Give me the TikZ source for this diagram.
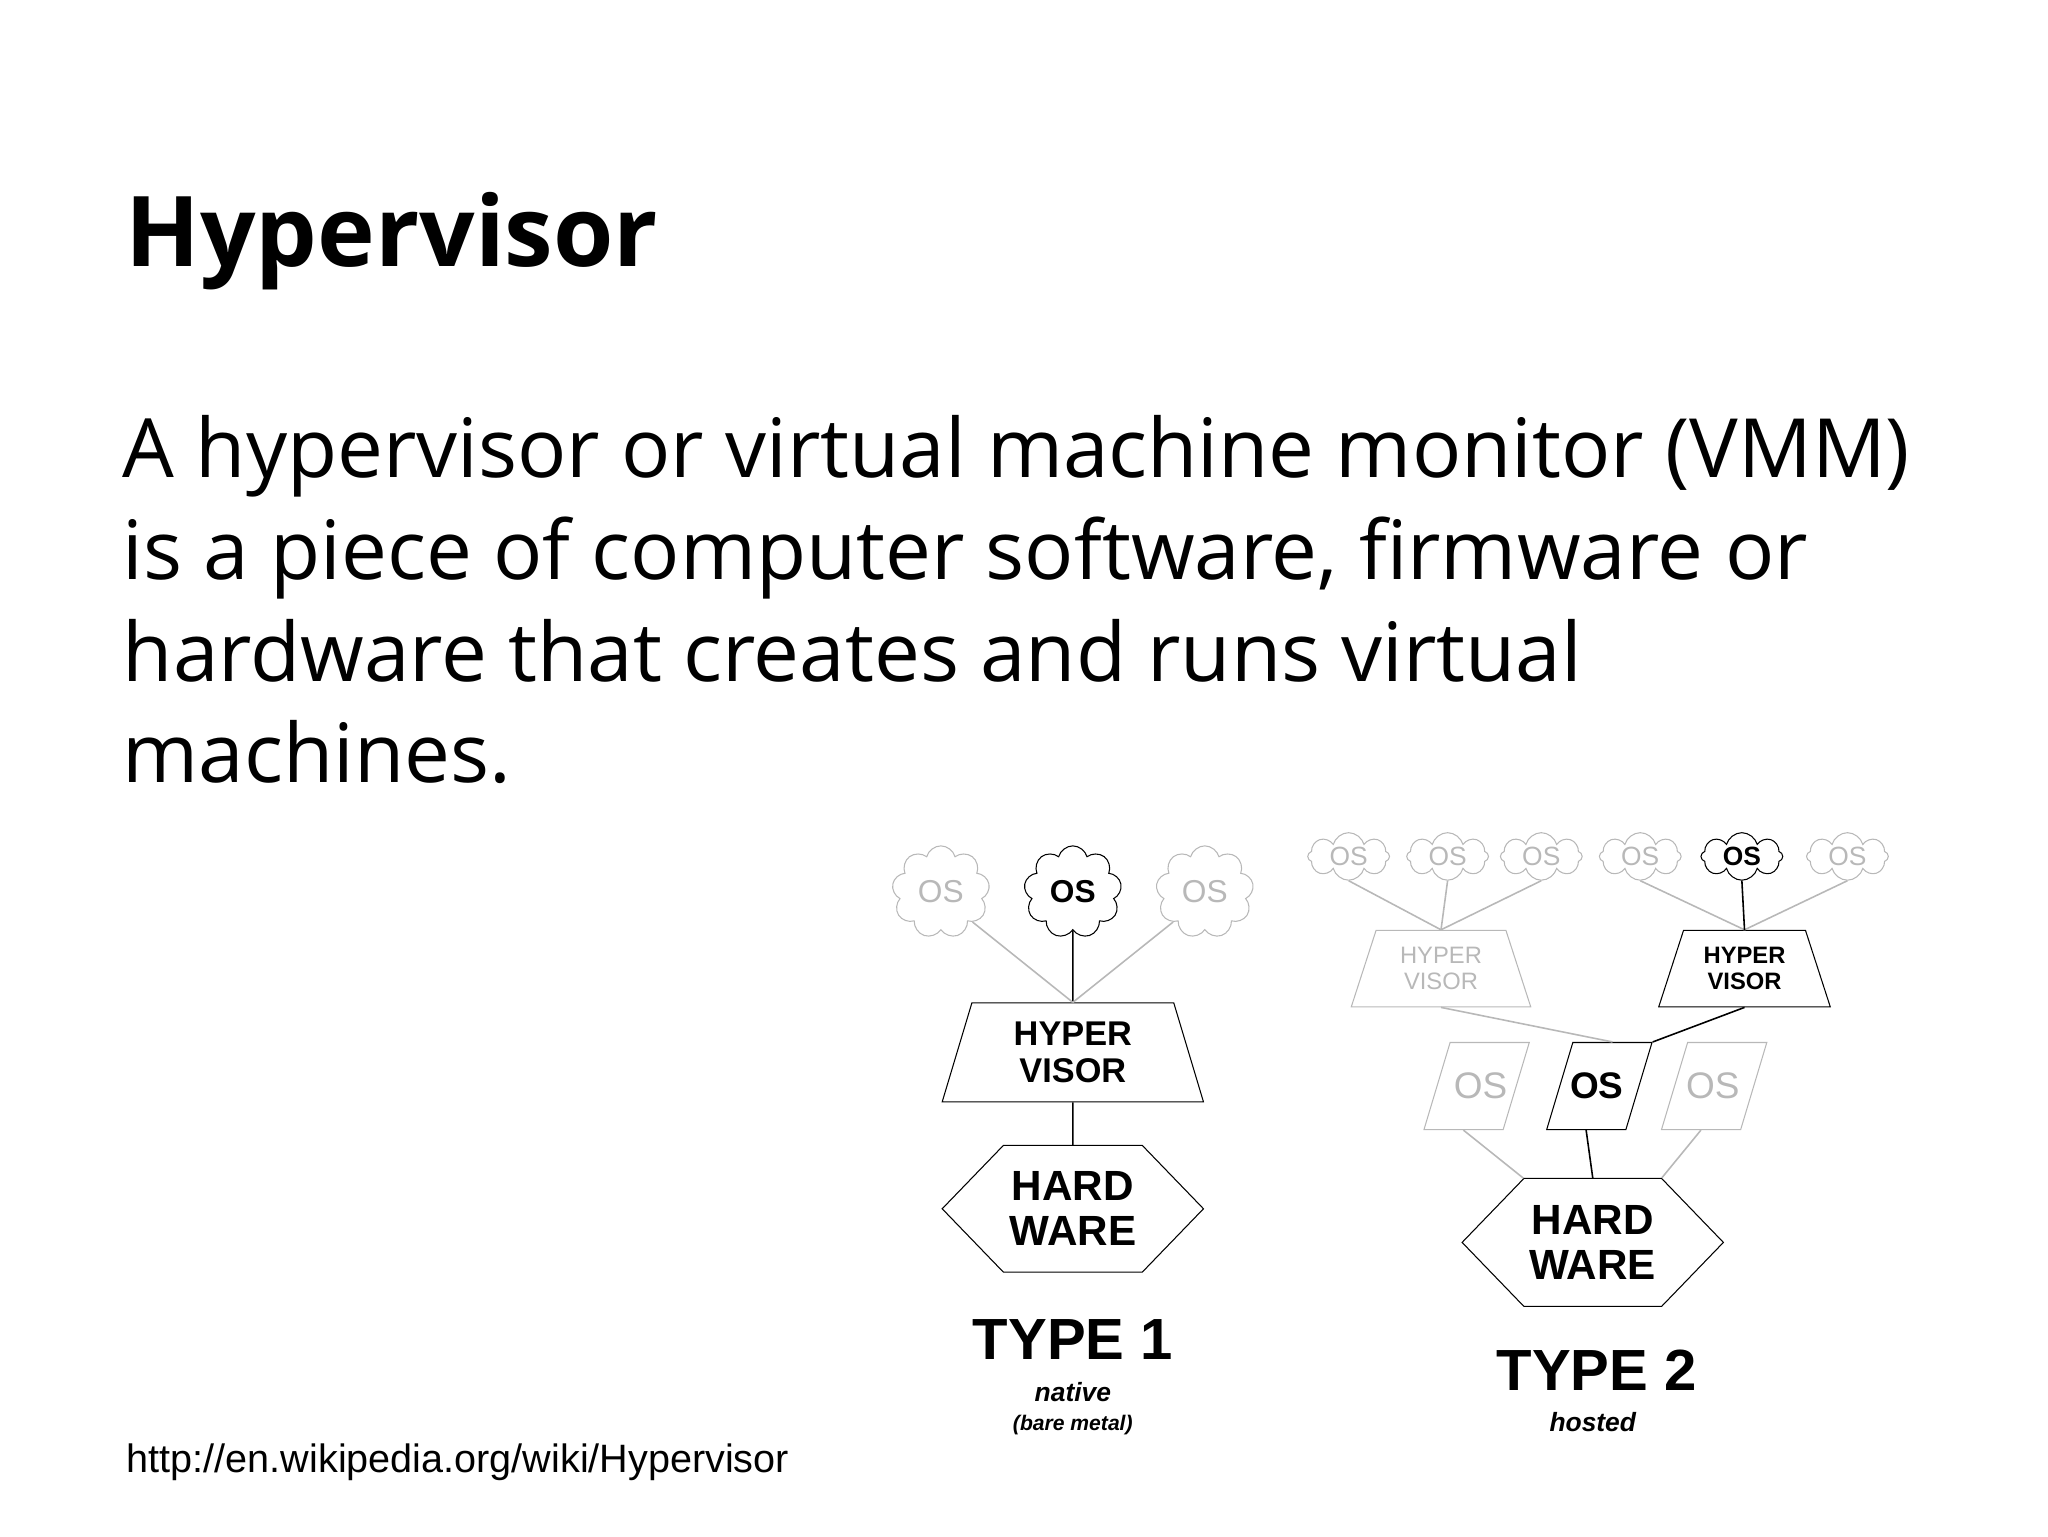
\documentclass[tikz,border=0pt]{standalone}
\usepackage{fontspec}
\setmainfont{Open Sans}
\newfontfamily\arial{Liberation Sans}
\usetikzlibrary{shapes.geometric,shapes.symbols}
\definecolor{lg}{gray}{0.72}
\begin{document}
\begin{tikzpicture}[x=0.5pt,y=-0.5pt,
  cl/.style={cloud,cloud puffs=9,draw,minimum width=37pt,minimum height=35pt,inner sep=0pt,font=\arial\bfseries\fontsize{12}{12}\selectfont},
  scl/.style={cloud,cloud puffs=8,draw,minimum width=31pt,minimum height=18pt,inner sep=0pt,aspect=1.8,font=\arial\fontsize{10}{10}\selectfont},
  trap/.style={trapezium,trapezium stretches body,draw,align=center,inner sep=0pt,font=\arial\bfseries\fontsize{13}{14}\selectfont},
  hex/.style={signal,signal to=east and west,signal pointer angle=92,draw,align=center,inner sep=0pt,font=\arial\bfseries\fontsize{16}{17}\selectfont},
  par/.style={rectangle,xslant=0.3,draw,minimum width=30pt,minimum height=33pt,inner sep=0pt},
  ptxt/.style={font=\arial\bfseries\fontsize{14}{14}\selectfont},
  gr/.style={draw=lg,text=lg},
  ln/.style={line width=0.6pt},
  gl/.style={draw=lg,line width=0.6pt}]
\useasboundingbox (0,0) rectangle (1552,1164);
\node[anchor=west,font=\bfseries\fontsize{37}{44}\selectfont] (title) at (88,183) {Hypervisor};
\node[anchor=north west,align=left,font=\fontsize{31}{38.5}\selectfont] (body) at (86,308)
 {A hypervisor or virtual machine monitor (VMM)\\is a piece of computer software, firmware or\\hardware that creates and runs virtual\\machines.};
\node[anchor=west,font=\arial\fontsize{15}{15}\selectfont] (url) at (89,1108) {http://en.wikipedia.org/wiki/Hypervisor};
% Type 1
\node[cl,gr,font=\arial\fontsize{12}{12}\selectfont] (c1) at (713,676) {OS};
\node[cl] (c2) at (813,676) {OS};
\node[cl,gr,font=\arial\fontsize{12}{12}\selectfont] (c3) at (913,676) {OS};
\node[trap,trapezium left angle=64,trapezium right angle=64,minimum width=99pt,minimum height=37.5pt] (h1) at (813,797.5) {HYPER\\VISOR};
\node[hex,minimum width=99pt,minimum height=48pt] (hw1) at (813,916) {HARD\\WARE};
\draw[ln] (c2.south) -- (h1.north);
\draw[gl] (c1.south east) -- (h1.north);
\draw[gl] (c3.south west) -- (h1.north);
\draw[ln] (h1.south) -- (hw1.north);
\node[font=\arial\bfseries\fontsize{22}{22}\selectfont] (t1) at (813,1015) {TYPE 1};
\node[font=\arial\bfseries\itshape\fontsize{10}{10}\selectfont] (n1) at (813,1055) {native};
\node[font=\arial\bfseries\itshape\fontsize{8}{8}\selectfont] (n2) at (813,1080) {(bare metal)};
% Type 2
\foreach \i/\x in {1/1022,2/1097,3/1168,4/1243,6/1400}{\node[scl,gr] (s\i) at (\x,649) {OS};}
\node[scl,font=\arial\bfseries\fontsize{10}{10}\selectfont] (s5) at (1320,649) {OS};
\node[trap,gr,trapezium left angle=60,trapezium right angle=60,minimum width=68pt,minimum height=29pt,font=\arial\fontsize{9}{10}\selectfont] (h2) at (1092,734) {HYPER\\VISOR};
\node[trap,trapezium left angle=60,trapezium right angle=60,minimum width=65pt,minimum height=29pt,font=\arial\bfseries\fontsize{9}{10}\selectfont] (h3) at (1322,734) {HYPER\\VISOR};
\foreach \i in {1,2,3}{\draw[gl] (s\i.south) -- (h2.north);}
\draw[gl] (s4.south) -- (h3.north);
\draw[gl] (s6.south) -- (h3.north);
\draw[ln] (s5.south) -- (h3.north);
\node[par,draw=lg] (o1) at (1119,823) {};
\node[ptxt,text=lg,font=\arial\fontsize{14}{14}\selectfont] (o1t) at (1122,823) {OS};
\node[par] (o2) at (1212,823) {};
\node[ptxt] (o2t) at (1210,823) {OS};
\node[par,draw=lg] (o3) at (1299,823) {};
\node[ptxt,text=lg,font=\arial\fontsize{14}{14}\selectfont] (o3t) at (1298,823) {OS};
\draw[gl] (h2.south) -- (o2.north);
\draw[ln] (h3.south) -- (o2.north east);
\node[hex,minimum width=99pt,minimum height=48.5pt] (hw2) at (1207,941.5) {HARD\\WARE};
\draw[ln] (o2.south) -- (hw2.north);
\draw[gl] (o1.south) -- (hw2.north west);
\draw[gl] (o3.south) -- (hw2.north east);
\node[font=\arial\bfseries\fontsize{22}{22}\selectfont] (t2) at (1210,1038) {TYPE 2};
\node[font=\arial\bfseries\itshape\fontsize{10}{10}\selectfont] (n3) at (1207,1078) {hosted};
\end{tikzpicture}
\end{document}
